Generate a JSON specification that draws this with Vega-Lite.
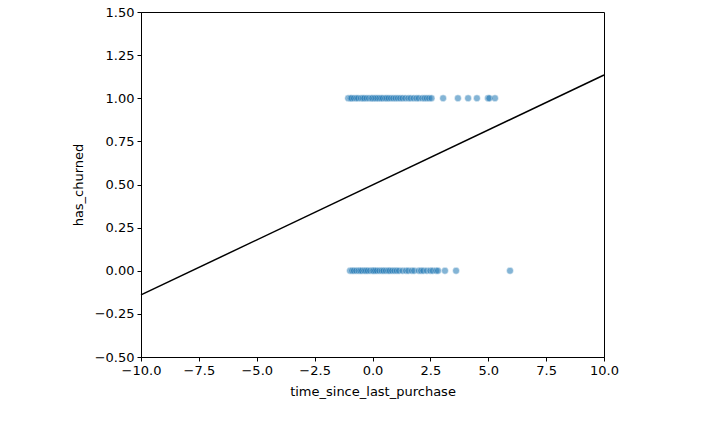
{
  "$schema": "https://vega.github.io/schema/vega-lite/v6.json",
  "width": 463,
  "height": 345,
  "autosize": {"type": "none"},
  "padding": {"left": 141, "top": 12, "right": 116, "bottom": 86},
  "background": "white",
  "datasets": {
    "points": [
      {"time_since_last_purchase": -1.05, "has_churned": 1},
      {"time_since_last_purchase": -0.95, "has_churned": 1},
      {"time_since_last_purchase": -0.9, "has_churned": 1},
      {"time_since_last_purchase": -0.8, "has_churned": 1},
      {"time_since_last_purchase": -0.7, "has_churned": 1},
      {"time_since_last_purchase": -0.62, "has_churned": 1},
      {"time_since_last_purchase": -0.5, "has_churned": 1},
      {"time_since_last_purchase": -0.42, "has_churned": 1},
      {"time_since_last_purchase": -0.35, "has_churned": 1},
      {"time_since_last_purchase": -0.25, "has_churned": 1},
      {"time_since_last_purchase": -0.15, "has_churned": 1},
      {"time_since_last_purchase": -0.05, "has_churned": 1},
      {"time_since_last_purchase": 0.0, "has_churned": 1},
      {"time_since_last_purchase": 0.08, "has_churned": 1},
      {"time_since_last_purchase": 0.15, "has_churned": 1},
      {"time_since_last_purchase": 0.22, "has_churned": 1},
      {"time_since_last_purchase": 0.3, "has_churned": 1},
      {"time_since_last_purchase": 0.38, "has_churned": 1},
      {"time_since_last_purchase": 0.45, "has_churned": 1},
      {"time_since_last_purchase": 0.55, "has_churned": 1},
      {"time_since_last_purchase": 0.62, "has_churned": 1},
      {"time_since_last_purchase": 0.7, "has_churned": 1},
      {"time_since_last_purchase": 0.8, "has_churned": 1},
      {"time_since_last_purchase": 0.9, "has_churned": 1},
      {"time_since_last_purchase": 1.0, "has_churned": 1},
      {"time_since_last_purchase": 1.1, "has_churned": 1},
      {"time_since_last_purchase": 1.2, "has_churned": 1},
      {"time_since_last_purchase": 1.3, "has_churned": 1},
      {"time_since_last_purchase": 1.42, "has_churned": 1},
      {"time_since_last_purchase": 1.55, "has_churned": 1},
      {"time_since_last_purchase": 1.65, "has_churned": 1},
      {"time_since_last_purchase": 1.78, "has_churned": 1},
      {"time_since_last_purchase": 1.9, "has_churned": 1},
      {"time_since_last_purchase": 2.0, "has_churned": 1},
      {"time_since_last_purchase": 2.15, "has_churned": 1},
      {"time_since_last_purchase": 2.25, "has_churned": 1},
      {"time_since_last_purchase": 2.35, "has_churned": 1},
      {"time_since_last_purchase": 2.45, "has_churned": 1},
      {"time_since_last_purchase": 2.55, "has_churned": 1},
      {"time_since_last_purchase": 3.05, "has_churned": 1},
      {"time_since_last_purchase": 3.69, "has_churned": 1},
      {"time_since_last_purchase": 4.13, "has_churned": 1},
      {"time_since_last_purchase": 4.51, "has_churned": 1},
      {"time_since_last_purchase": 4.99, "has_churned": 1},
      {"time_since_last_purchase": 5.05, "has_churned": 1},
      {"time_since_last_purchase": 5.29, "has_churned": 1},
      {"time_since_last_purchase": -0.97, "has_churned": 0},
      {"time_since_last_purchase": -0.88, "has_churned": 0},
      {"time_since_last_purchase": -0.8, "has_churned": 0},
      {"time_since_last_purchase": -0.7, "has_churned": 0},
      {"time_since_last_purchase": -0.6, "has_churned": 0},
      {"time_since_last_purchase": -0.52, "has_churned": 0},
      {"time_since_last_purchase": -0.45, "has_churned": 0},
      {"time_since_last_purchase": -0.35, "has_churned": 0},
      {"time_since_last_purchase": -0.28, "has_churned": 0},
      {"time_since_last_purchase": -0.2, "has_churned": 0},
      {"time_since_last_purchase": -0.1, "has_churned": 0},
      {"time_since_last_purchase": 0.0, "has_churned": 0},
      {"time_since_last_purchase": 0.05, "has_churned": 0},
      {"time_since_last_purchase": 0.12, "has_churned": 0},
      {"time_since_last_purchase": 0.2, "has_churned": 0},
      {"time_since_last_purchase": 0.3, "has_churned": 0},
      {"time_since_last_purchase": 0.4, "has_churned": 0},
      {"time_since_last_purchase": 0.48, "has_churned": 0},
      {"time_since_last_purchase": 0.58, "has_churned": 0},
      {"time_since_last_purchase": 0.68, "has_churned": 0},
      {"time_since_last_purchase": 0.75, "has_churned": 0},
      {"time_since_last_purchase": 0.85, "has_churned": 0},
      {"time_since_last_purchase": 0.95, "has_churned": 0},
      {"time_since_last_purchase": 1.05, "has_churned": 0},
      {"time_since_last_purchase": 1.15, "has_churned": 0},
      {"time_since_last_purchase": 1.3, "has_churned": 0},
      {"time_since_last_purchase": 1.45, "has_churned": 0},
      {"time_since_last_purchase": 1.55, "has_churned": 0},
      {"time_since_last_purchase": 1.7, "has_churned": 0},
      {"time_since_last_purchase": 1.8, "has_churned": 0},
      {"time_since_last_purchase": 2.0, "has_churned": 0},
      {"time_since_last_purchase": 2.1, "has_churned": 0},
      {"time_since_last_purchase": 2.2, "has_churned": 0},
      {"time_since_last_purchase": 2.35, "has_churned": 0},
      {"time_since_last_purchase": 2.5, "has_churned": 0},
      {"time_since_last_purchase": 2.6, "has_churned": 0},
      {"time_since_last_purchase": 2.75, "has_churned": 0},
      {"time_since_last_purchase": 2.83, "has_churned": 0},
      {"time_since_last_purchase": 3.13, "has_churned": 0},
      {"time_since_last_purchase": 3.61, "has_churned": 0},
      {"time_since_last_purchase": 5.94, "has_churned": 0}
    ],
    "fit": [
      {"time_since_last_purchase": -10, "has_churned": -0.14},
      {"time_since_last_purchase": 10, "has_churned": 1.135}
    ]
  },
  "encoding": {
    "x": {
      "field": "time_since_last_purchase",
      "type": "quantitative",
      "scale": {"domain": [-10, 10], "nice": false, "zero": false},
      "axis": {
        "title": "time_since_last_purchase",
        "values": [-10, -7.5, -5, -2.5, 0, 2.5, 5, 7.5, 10],
        "format": ".1f",
        "titlePadding": 8
      }
    },
    "y": {
      "field": "has_churned",
      "type": "quantitative",
      "scale": {"domain": [-0.5, 1.5], "nice": false, "zero": false},
      "axis": {
        "title": "has_churned",
        "values": [-0.5, -0.25, 0, 0.25, 0.5, 0.75, 1, 1.25, 1.5],
        "format": ".2f",
        "titlePadding": 9
      }
    }
  },
  "layer": [
    {
      "data": {"name": "points"},
      "mark": {
        "type": "point",
        "filled": true,
        "shape": "circle",
        "size": 48,
        "color": "#1f77b4",
        "opacity": 0.55,
        "stroke": "white",
        "strokeWidth": 0.6,
        "strokeOpacity": 0.8
      }
    },
    {
      "data": {"name": "fit"},
      "mark": {"type": "line", "color": "black", "strokeWidth": 1.5}
    }
  ],
  "config": {
    "view": {"stroke": "black", "strokeWidth": 1},
    "axis": {
      "grid": false,
      "domainColor": "black",
      "tickColor": "black",
      "labelColor": "black",
      "titleColor": "black",
      "labelFont": "DejaVu Sans",
      "titleFont": "DejaVu Sans",
      "labelFontSize": 13,
      "titleFontSize": 13,
      "titleFontWeight": "normal",
      "tickSize": 4,
      "labelPadding": 3,
      "labelFlush": false,
      "labelOverlap": false
    }
  }
}
